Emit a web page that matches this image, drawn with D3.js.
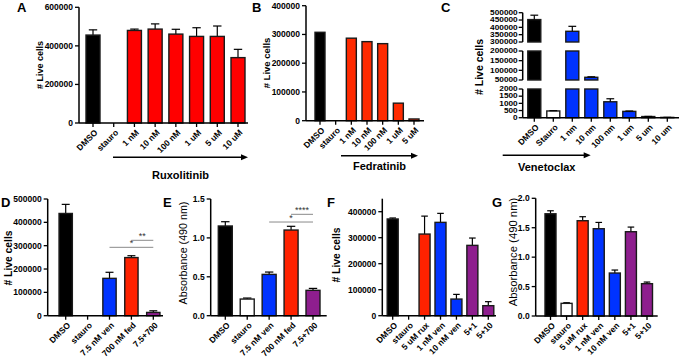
<!DOCTYPE html>
<html>
<head>
<meta charset="utf-8">
<script src="https://cdn.jsdelivr.net/npm/d3@7"></script>
<style>
  body { margin: 0; background: #fff; }
  svg { font-family: "Liberation Sans", Arial, sans-serif; }
</style>
</head>
<body>
<svg id="fig" width="680" height="362"></svg>
<script>
// ---- data ----
var catA = ["DMSO", "stauro", "1 nM", "10 nM", "100 nM", "1 uM", "5 uM", "10 uM"];
var valA = [456000, 0, 480000, 487000, 461000, 449000, 449000, 339000];
var errA = [27000, 0, 7000, 27000, 25000, 45000, 54000, 43000];
var colA = ["#000000", "#ffffff", "#ff0000", "#ff0000", "#ff0000", "#ff0000", "#ff0000", "#ff0000"];

var catB = ["DMSO", "stauro", "1 nM", "10 nM", "100 nM", "1 uM", "5 uM"];
var valB = [307500, 0, 287000, 275000, 268000, 61000, 6000];
var colB = ["#000000", "#ffffff", "#ff2a00", "#ff2a00", "#ff2a00", "#ff2a00", "#ff2a00"];

var catC = ["DMSO", "Stauro", "1 nm", "10 nm", "100 nm", "1 um", "5 um", "10 um"];
var valC = [453000, 470, 373000, 64000, 1110, 440, 80, 20];
var errC = [30000, 20, 34000, 2500, 210, 25, 10, 5];
var colC = ["#000000", "#ffffff", "#0033ff", "#0033ff", "#0033ff", "#0033ff", "#0033ff", "#0033ff"];

var catD = ["DMSO", "stauro", "7.5 nM ven", "700 nM fed", "7.5+700"];
var valD = [438000, 0, 160000, 249000, 14000];
var errD = [39000, 0, 26000, 8000, 7000];
var colD = ["#000000", "#ffffff", "#0033ff", "#ff2200", "#8e1e8e"];

var catE = ["DMSO", "stauro", "7.5 nM ven", "700 nM fed", "7.5+700"];
var valE = [1.153, 0.214, 0.531, 1.101, 0.326];
var errE = [0.055, 0.013, 0.03, 0.048, 0.025];
var colE = colD;

var catF = ["DMSO", "stauro", "5 uM rux", "1 nM ven", "10 nM ven", "5+1", "5+10"];
var valF = [372000, 0, 314000, 359000, 64000, 270500, 38500];
var errF = [3800, 0, 69000, 34600, 18000, 28200, 15500];
var colF = ["#000000", "#ffffff", "#ff2200", "#0033ff", "#0033ff", "#8e1e8e", "#8e1e8e"];

var catG = catF;
var valG = [1.737, 0.215, 1.619, 1.483, 0.73, 1.432, 0.549];
var errG = [0.051, 0.011, 0.068, 0.107, 0.051, 0.079, 0.028];
var colG = colF;

// significance brackets: [from index, to index, y value, label]
var sigD = [[2, 4, 293000, "*"], [3, 4, 323000, "**"]];
var sigE = [[2, 4, 1.204, "*"], [3, 4, 1.303, "****"]];

var svg = d3.select("#fig");

function panelLetter(t, x, y) {
  svg.append("text").attr("x", x).attr("y", y)
    .attr("font-size", 13).attr("font-weight", "bold").text(t);
}

function yTitle(t, x, y, size, bold) {
  svg.append("text")
    .attr("transform", "translate(" + x + "," + y + ") rotate(-90)")
    .attr("text-anchor", "middle").attr("dy", "0.35em")
    .attr("font-size", size).attr("font-weight", bold ? "bold" : "normal")
    .text(t);
}

function xAxis(g, x, cats, x0, x1, bottom) {
  g.append("line").attr("x1", x0).attr("x2", x1).attr("y1", bottom).attr("y2", bottom)
    .attr("stroke", "#000").attr("stroke-width", 1.5);
  cats.forEach(function(c) {
    g.append("line").attr("x1", x(c)).attr("x2", x(c)).attr("y1", bottom).attr("y2", bottom + 4)
      .attr("stroke", "#000").attr("stroke-width", 1.3);
    g.append("text")
      .attr("transform", "translate(" + (x(c) + 3) + "," + (bottom + 8) + ") rotate(-45)")
      .attr("text-anchor", "end").attr("dy", "0.35em")
      .attr("font-size", 8.5).attr("font-weight", "bold")
      .text(c);
  });
}

function bars(g, x, y, cats, vals, errs, cols, bw) {
  cats.forEach(function(c, i) {
    if (vals[i] <= 0) return;
    if (errs && errs[i] > 0) {
      var cx = x(c), yt = y(vals[i]), ye = y(vals[i] + errs[i]);
      g.append("line").attr("x1", cx).attr("x2", cx).attr("y1", yt).attr("y2", ye)
        .attr("stroke", "#000").attr("stroke-width", 1.2);
      g.append("line").attr("x1", cx - bw * 0.3).attr("x2", cx + bw * 0.3).attr("y1", ye).attr("y2", ye)
        .attr("stroke", "#000").attr("stroke-width", 1.2);
    }
    g.append("rect")
      .attr("x", x(c) - bw / 2).attr("width", bw)
      .attr("y", y(vals[i])).attr("height", Math.max(0.5, y(0) - y(vals[i])))
      .attr("fill", cols[i]).attr("stroke", "#1a1a1a").attr("stroke-width", 1.4);
  });
}

function panel(o) {
  var g = svg.append("g");
  var x = d3.scalePoint().domain(o.cats).range([o.c0, o.c1]);
  var y = d3.scaleLinear().domain(o.domain).range([o.bottom, o.top]);
  bars(g, x, y, o.cats, o.vals, o.errs, o.cols, o.bw);
  // y axis
  g.append("line").attr("x1", o.ax).attr("x2", o.ax).attr("y1", o.bottom).attr("y2", o.top)
    .attr("stroke", "#000").attr("stroke-width", 1.5);
  o.ticks.forEach(function(t) {
    g.append("line").attr("x1", o.ax - 4).attr("x2", o.ax).attr("y1", y(t)).attr("y2", y(t))
      .attr("stroke", "#000").attr("stroke-width", 1.3);
    g.append("text").attr("x", o.ax - 6).attr("y", y(t)).attr("dy", "0.35em")
      .attr("text-anchor", "end").attr("font-size", 8.5).attr("font-weight", "bold")
      .text(o.fmt ? d3.format(o.fmt)(t) : t);
  });
  xAxis(g, x, o.cats, o.ax, o.xEnd, o.bottom);
  (o.sig || []).forEach(function(s) {
    var yy = y(s[2]);
    g.append("line").attr("x1", x(o.cats[s[0]])).attr("x2", x(o.cats[s[1]]))
      .attr("y1", yy).attr("y2", yy).attr("stroke", "#8a8a8a").attr("stroke-width", 1);
    g.append("text").attr("x", (x(o.cats[s[0]]) + x(o.cats[s[1]])) / 2).attr("y", yy - 1.5)
      .attr("text-anchor", "middle").attr("font-size", 9).attr("fill", "#333")
      .text(s[3]);
  });
  return g;
}

function arrow(x0, x1, yy, label, ly) {
  svg.append("line").attr("x1", x0).attr("x2", x1 - 5).attr("y1", yy).attr("y2", yy)
    .attr("stroke", "#000").attr("stroke-width", 1.6);
  svg.append("path")
    .attr("d", "M" + x1 + "," + yy + "L" + (x1 - 7) + "," + (yy - 3) + "L" + (x1 - 7) + "," + (yy + 3) + "Z")
    .attr("fill", "#000");
  svg.append("text").attr("x", (x0 + x1) / 2).attr("y", ly)
    .attr("text-anchor", "middle").attr("font-size", 11).attr("font-weight", "bold")
    .text(label);
}

// ---- A ----
panelLetter("A", 17, 12);
panel({ cats: catA, vals: valA, errs: errA, cols: colA, c0: 93, c1: 238, bw: 14,
  ax: 79, xEnd: 248, top: 7.3, bottom: 123, domain: [0, 600000],
  ticks: [0, 200000, 400000, 600000] });
yTitle("# Live cells", 40, 65, 9, true);
arrow(113, 248, 157.3, "Ruxolitinib", 179);

// ---- B ----
panelLetter("B", 252, 12);
panel({ cats: catB, vals: valB, errs: null, cols: colB, c0: 320, c1: 414, bw: 10,
  ax: 306, xEnd: 424, top: 5.7, bottom: 120.7, domain: [0, 400000],
  ticks: [0, 100000, 200000, 300000, 400000] });
yTitle("# Live cells", 267, 63, 9.5, true);
arrow(341, 418, 155.7, "Fedratinib", 170);

// ---- C (broken y axis) ----
panelLetter("C", 441, 12);
(function() {
  var g = svg.append("g");
  var ax = 522.7;
  var segs = [
    { domain: [0, 2000], range: [117.7, 89], ticks: [0, 500, 1000, 1500, 2000] },
    { domain: [50000, 200000], range: [80, 51], ticks: [50000, 100000, 150000, 200000] },
    { domain: [300000, 500000], range: [42, 12.7], ticks: [300000, 350000, 400000, 450000, 500000] }
  ];
  var x = d3.scalePoint().domain(catC).range([534.3, 667.3]);
  var bw = 13;
  segs.forEach(function(s) {
    s.y = d3.scaleLinear().domain(s.domain).range(s.range);
  });
  // bars split over segments
  catC.forEach(function(c, i) {
    var v = valC[i];
    var top = segs[0];
    segs.forEach(function(s) {
      if (v <= s.domain[0]) return;
      top = s;
      var yTop = s.y(Math.min(v, s.domain[1]));
      g.append("rect").attr("x", x(c) - bw / 2).attr("width", bw)
        .attr("y", yTop).attr("height", s.y(s.domain[0]) - yTop)
        .attr("fill", colC[i]).attr("stroke", "#1a1a1a").attr("stroke-width", 1.4);
    });
    var e = v + errC[i];
    var ye = top.y(Math.min(e, top.domain[1]));
    g.append("line").attr("x1", x(c)).attr("x2", x(c)).attr("y1", top.y(v)).attr("y2", ye)
      .attr("stroke", "#000").attr("stroke-width", 1.2);
    g.append("line").attr("x1", x(c) - bw * 0.3).attr("x2", x(c) + bw * 0.3).attr("y1", ye).attr("y2", ye)
      .attr("stroke", "#000").attr("stroke-width", 1.2);
  });
  segs.forEach(function(s) {
    g.append("line").attr("x1", ax).attr("x2", ax).attr("y1", s.range[0]).attr("y2", s.range[1])
      .attr("stroke", "#000").attr("stroke-width", 1.5);
    s.ticks.forEach(function(t) {
      g.append("line").attr("x1", ax - 4).attr("x2", ax).attr("y1", s.y(t)).attr("y2", s.y(t))
        .attr("stroke", "#000").attr("stroke-width", 1.3);
      g.append("text").attr("x", ax - 5).attr("y", s.y(t)).attr("dy", "0.35em")
        .attr("text-anchor", "end").attr("font-size", 6.4).attr("font-weight", "bold")
        .attr("textLength", String(t).length * 4.6).attr("lengthAdjust", "spacingAndGlyphs")
        .text(t);
    });
  });
  xAxis(g, x, catC, ax, 679, 117.7);
})();
yTitle("# Live cells", 479, 67, 10.5, true);
arrow(502.7, 590.7, 155.3, "Venetoclax", 171);

// ---- D ----
panelLetter("D", 1, 207);
panel({ cats: catD, vals: valD, errs: errD, cols: colD, c0: 65.7, c1: 153.3, bw: 13.3,
  ax: 47.7, xEnd: 163, top: 199, bottom: 315.7, domain: [0, 500000],
  ticks: [0, 100000, 200000, 300000, 400000, 500000], sig: sigD });
yTitle("# Live cells", 8, 258, 10.3, true);

// ---- E ----
panelLetter("E", 163, 207);
panel({ cats: catE, vals: valE, errs: errE, cols: colE, c0: 225.3, c1: 313, bw: 14,
  ax: 210.7, xEnd: 326.7, top: 199, bottom: 315.7, domain: [0, 1.5],
  ticks: [0, 0.5, 1.0, 1.5], fmt: ".1f", sig: sigE });
yTitle("Absorbance (490 nm)", 183.3, 253, 10.7, false);

// ---- F ----
panelLetter("F", 327, 207);
panel({ cats: catF, vals: valF, errs: errF, cols: colF, c0: 392.7, c1: 488.3, bw: 11,
  ax: 382.3, xEnd: 496, top: 198.7, bottom: 315.7, domain: [0, 450000],
  ticks: [0, 100000, 200000, 300000, 400000] });
yTitle("# Live cells", 336.7, 255, 10.3, true);

// ---- G ----
panelLetter("G", 492, 207);
panel({ cats: catG, vals: valG, errs: errG, cols: colG, c0: 550.5, c1: 647, bw: 11,
  ax: 535.7, xEnd: 657.7, top: 198.3, bottom: 316, domain: [0, 2],
  ticks: [0, 0.5, 1.0, 1.5, 2.0], fmt: ".1f" });
yTitle("Absorbance (490 nm)", 513.3, 252, 11.3, false);
</script>
</body>
</html>
